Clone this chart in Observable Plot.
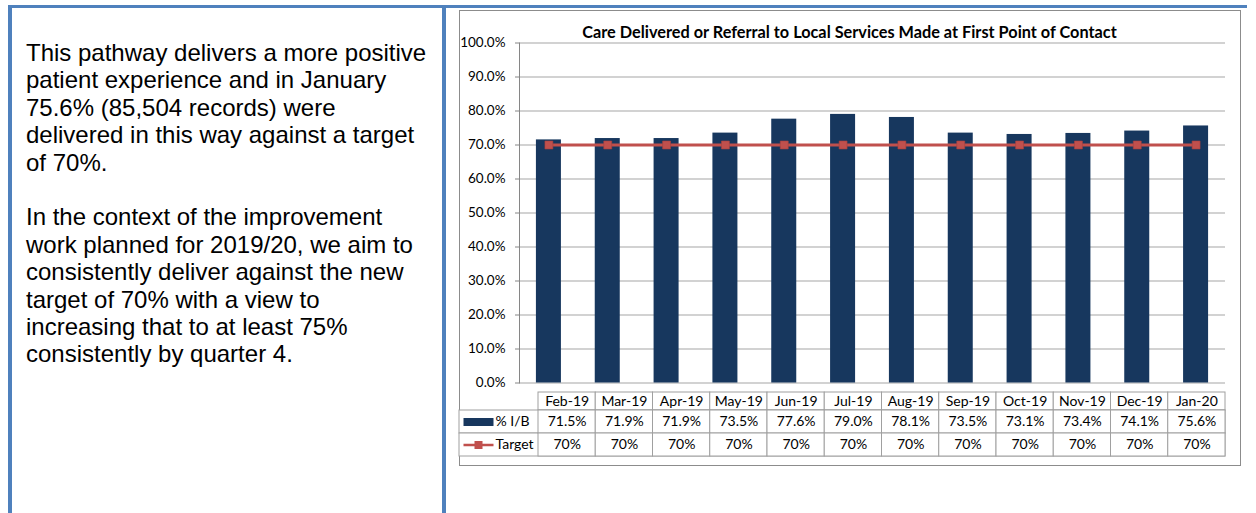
<!DOCTYPE html>
<html>
<head>
<meta charset="utf-8">
<script src="https://cdn.jsdelivr.net/npm/d3@7"></script>
<script src="https://cdn.jsdelivr.net/npm/@observablehq/plot@0.6"></script>
<style>
  html, body { margin: 0; padding: 0; background: #fff; width: 1256px; height: 513px; overflow: hidden; position: relative; }
  .blue { position: absolute; background: #4F81BD; }
  #note { position: absolute; left: 26px; top: 39px; width: 410px; font-family: "Liberation Sans", Arial, sans-serif; font-size: 24px; line-height: 27.4px; color: #000; }
  #frame { position: absolute; left: 459px; top: 10px; width: 780px; height: 454px; border: 1px solid #8c8c8c; box-sizing: content-box; }
  #title { position: absolute; left: 459px; top: 23px; width: 781px; text-align: center; font-family: Lato, sans-serif; font-weight: bold; font-size: 16.3px; line-height: 18px; color: #000; }
  .plotbox { position: absolute; left: 459px; }
  .plotbox svg { overflow: visible; }
</style>
</head>
<body>
<div class="blue" style="left:8px; top:5px; width:1239px; height:3px;"></div>
<div class="blue" style="left:8px; top:5px; width:4px; height:508px;"></div>
<div class="blue" style="left:442px; top:5px; width:4px; height:508px;"></div>
<div id="note">This pathway delivers a more positive<br>patient experience and in January<br>75.6% (85,504 records) were<br>delivered in this way against a target<br>of 70%.<br><br>In the context of the improvement<br>work planned for 2019/20, we aim to<br>consistently deliver against the new<br>target of 70% with a view to<br>increasing that to at least 75%<br>consistently by quarter 4.</div>
<div id="frame"></div>
<div id="title">Care Delivered or Referral to Local Services Made at First Point of Contact</div>
<div class="plotbox" id="main" style="top:10px;"></div>
<div class="plotbox" id="thead" style="top:391px;"></div>
<div class="plotbox" id="tbody" style="top:409px;"></div>
<script>
const months = ["Feb-19","Mar-19","Apr-19","May-19","Jun-19","Jul-19","Aug-19","Sep-19","Oct-19","Nov-19","Dec-19","Jan-20"];
const ibValues = [0.715, 0.719, 0.719, 0.735, 0.776, 0.790, 0.781, 0.735, 0.731, 0.734, 0.741, 0.756];
const targetValues = [0.70, 0.70, 0.70, 0.70, 0.70, 0.70, 0.70, 0.70, 0.70, 0.70, 0.70, 0.70];
const yTicks = [0, 0.1, 0.2, 0.3, 0.4, 0.5, 0.6, 0.7, 0.8, 0.9, 1.0];
const seriesNames = ["% I/B", "Target"];

const NAVY = "#17375E", RED = "#C0504D", GRID = "#a6a6a6", LINE = "#a0a0a0";
const data = months.map((m, i) => ({month: m, ib: ibValues[i], target: targetValues[i]}));
const fmtIB = d3.format(".1%"), fmtT = d3.format(".0%");
const cells = [
  ...data.map(d => ({row: seriesNames[0], month: d.month, text: fmtIB(d.ib)})),
  ...data.map(d => ({row: seriesNames[1], month: d.month, text: fmtT(d.target)}))
];
const baseStyle = {fontFamily: "Lato, sans-serif", fontSize: "13px", background: "transparent", color: "#000"};

const main = Plot.plot({
  width: 781, height: 380,
  marginLeft: 60, marginRight: 15, marginTop: 32.5, marginBottom: 7.5,
  style: baseStyle,
  x: {domain: months, paddingInner: 0.575, paddingOuter: 0.2875, round: false, axis: null},
  y: {domain: [0, 1], axis: null},
  marks: [
    Plot.ruleY(yTicks, {stroke: GRID, strokeWidth: 1.2}),
    Plot.frame({anchor: "left", stroke: "#868686"}),
    Plot.axisY(yTicks, {tickSize: 4, tickPadding: 10, tickFormat: d3.format(".1%"), stroke: "#868686", fill: "#000", fontSize: 13.5}),
    Plot.barY(data, {x: "month", y: "ib", fill: NAVY}),
    Plot.line(data, {x: "month", y: "target", stroke: RED, strokeWidth: 3}),
    Plot.dot(data, {x: "month", y: "target", symbol: "square", r: 4.5, fill: RED, stroke: "#a8403d", strokeWidth: 0.6})
  ]
});
document.getElementById("main").appendChild(main);

const thead = Plot.plot({
  width: 781, height: 20,
  marginLeft: 79, marginRight: 15, marginTop: 1, marginBottom: 1,
  style: baseStyle,
  x: {domain: months, padding: 0, round: false, axis: null},
  marks: [
    Plot.cell(months, {x: d => d, fill: "white", stroke: LINE}),
    Plot.text(months, {x: d => d, text: d => d, fontSize: 14, fill: "#000"})
  ]
});
document.getElementById("thead").appendChild(thead);

const swatchBar = {draw(ctx) { ctx.rect(-15, -4, 30, 8); }};
const swatchLine = {draw(ctx) { ctx.rect(-15, -1.2, 30, 2.4); ctx.rect(-4, -4, 8, 8); }};

const tbody = Plot.plot({
  width: 781, height: 48,
  marginLeft: 0, marginRight: 15, marginTop: 1, marginBottom: 1,
  style: baseStyle,
  x: {domain: months, range: [79, 766], padding: 0, round: false, axis: null},
  y: {domain: seriesNames, padding: 0, round: false, axis: null},
  marks: [
    Plot.cell(seriesNames, {y: d => d, fill: "white", stroke: LINE}),
    Plot.cell(cells, {x: "month", y: "row", fill: "white", stroke: LINE}),
    Plot.text(cells, {x: "month", y: "row", text: "text", fontSize: 14, fill: "#000"}),
    Plot.text(seriesNames, {y: d => d, text: d => d, frameAnchor: "left", dx: 36, textAnchor: "start", fontSize: 14, fill: "#000"}),
    Plot.dot([seriesNames[0]], {y: d => d, frameAnchor: "left", dx: 19, r: 4, symbol: swatchBar, fill: NAVY, stroke: "none"}),
    Plot.dot([seriesNames[1]], {y: d => d, frameAnchor: "left", dx: 19, r: 4, symbol: swatchLine, fill: RED, stroke: "none"})
  ]
});
document.getElementById("tbody").appendChild(tbody);
</script>
</body>
</html>
